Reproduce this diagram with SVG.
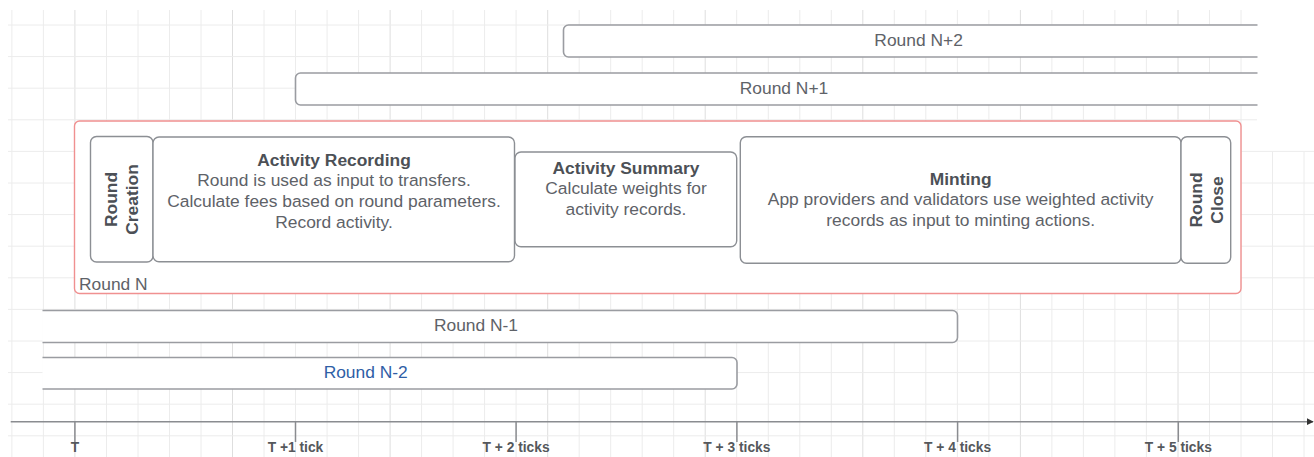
<svg xmlns="http://www.w3.org/2000/svg" width="1314" height="457" viewBox="0 0 1314 457">
  <defs>
    <style>
      .grid { stroke: #ececec; stroke-width: 1; fill: none; }
      .gridmaj { stroke: #dedede; stroke-width: 1; fill: none; }
      .bar { fill: #ffffff; stroke: #9a9ca1; stroke-width: 1.6; }
      .box { fill: #ffffff; stroke: #8c8f94; stroke-width: 1.4; }
      .frame { fill: #ffffff; stroke: #f09090; stroke-width: 1.4; }
      .t { font-family: "Liberation Sans", Arial, Helvetica, sans-serif; font-size: 17.4px; fill: #5e6268; text-anchor: middle; }
      .tb { font-family: "Liberation Sans", Arial, Helvetica, sans-serif; font-size: 17.4px; font-weight: bold; fill: #4c5056; text-anchor: middle; }
      .ax { font-family: "Liberation Sans", Arial, Helvetica, sans-serif; font-size: 13.8px; font-weight: bold; fill: #55585c; text-anchor: middle; }
      .axis { stroke: #8a8c90; stroke-width: 1.5; fill: none; }
    </style>
    <clipPath id="clipR"><rect x="0" y="0" width="1257.5" height="457"/></clipPath>
    <clipPath id="clipL"><rect x="42.5" y="0" width="1300" height="457"/></clipPath>
    <marker id="arrow" viewBox="0 0 10 10" refX="9" refY="5" markerWidth="7" markerHeight="7" markerUnits="userSpaceOnUse" orient="auto">
      <path d="M0,0 L10,5 L0,10 Z" fill="#333"/>
    </marker>
  </defs>

  <rect x="0" y="0" width="1314" height="457" fill="#ffffff"/>

  <g id="grid">
    <path class="grid" d="M11.9,10V457 M43.4,10V457 M106.5,10V457 M138,10V457 M169.5,10V457 M201,10V457 M264,10V457 M295.5,10V457 M327.1,10V457 M358.6,10V457 M421.6,10V457 M453.1,10V457 M484.6,10V457 M516.1,10V457 M579.2,10V457 M610.7,10V457 M642.2,10V457 M673.7,10V457 M736.7,10V457 M768.3,10V457 M799.8,10V457 M831.3,10V457 M894.3,10V457 M925.8,10V457 M957.4,10V457 M988.9,10V457 M1051.9,10V457 M1083.4,10V457 M1114.9,10V457 M1146.4,10V457 M1209.5,10V457 M1241,10V457 M1272.5,151.4V457 M1304,151.4V457"/>
    <path class="gridmaj" d="M74.9,10V457 M232.5,10V457 M390.1,10V457 M547.7,10V457 M705.2,10V457 M862.8,10V457 M1020.4,10V457 M1178,10V457"/>
    <path class="grid" d="M8,25H1257 M8,56.6H1257 M8,88.2H1257 M8,119.8H1257 M8,151.4H1314 M8,183H1314 M8,214.6H1314 M8,246.2H1314 M8,277.8H1314 M8,309.4H1314 M8,341H1314 M8,372.6H1314 M8,404.2H1314 M8,435.8H1314"/>
  </g>

  <g id="round-n-plus-2" clip-path="url(#clipR)">
    <rect class="bar" x="563.5" y="25" width="730" height="32" rx="5"/>
    <text class="t" x="918.6" y="46.3">Round N+2</text>
  </g>

  <g id="round-n-plus-1" clip-path="url(#clipR)">
    <rect class="bar" x="295.5" y="73" width="1000" height="32" rx="5"/>
    <text class="t" x="784" y="94">Round N+1</text>
  </g>

  <g id="round-n">
    <rect class="frame" x="74.5" y="121" width="1166.5" height="172.5" rx="5"/>
    <text class="t" x="79" y="289.5" style="text-anchor:start">Round N</text>
  </g>

  <g id="round-creation">
    <rect class="box" x="90.5" y="136.5" width="62.5" height="125.5" rx="6"/>
    <g transform="translate(121.5,199.5) rotate(-90)">
      <text class="tb" x="0" y="-4.5">Round</text>
      <text class="tb" x="0" y="16.5">Creation</text>
    </g>
  </g>

  <g id="activity-recording">
    <rect class="box" x="153" y="137" width="361.5" height="124.7" rx="6"/>
    <text class="tb" x="334" y="165.5">Activity Recording</text>
    <text class="t" x="334" y="186.3">Round is used as input to transfers.</text>
    <text class="t" x="334" y="207.1">Calculate fees based on round parameters.</text>
    <text class="t" x="334" y="227.9">Record activity.</text>
  </g>

  <g id="activity-summary">
    <rect class="box" x="515" y="152" width="221.7" height="94.7" rx="6"/>
    <text class="tb" x="626" y="173.5">Activity Summary</text>
    <text class="t" x="626" y="194.4">Calculate weights for</text>
    <text class="t" x="626" y="215.3">activity records.</text>
  </g>

  <g id="minting">
    <rect class="box" x="740.3" y="136.7" width="440.7" height="126.6" rx="6"/>
    <text class="tb" x="960.7" y="184.5">Minting</text>
    <text class="t" x="960.7" y="205.4">App providers and validators use weighted activity</text>
    <text class="t" x="960.7" y="226.3">records as input to minting actions.</text>
  </g>

  <g id="round-close">
    <rect class="box" x="1181" y="136.7" width="49.7" height="126.6" rx="6"/>
    <g transform="translate(1206,200) rotate(-90)">
      <text class="tb" x="0" y="-4.5">Round</text>
      <text class="tb" x="0" y="16.5">Close</text>
    </g>
  </g>

  <g id="round-n-minus-1" clip-path="url(#clipL)">
    <rect class="bar" x="-20" y="310.5" width="977.5" height="32" rx="5"/>
    <text class="t" x="476" y="330.5">Round N-1</text>
  </g>

  <g id="round-n-minus-2" clip-path="url(#clipL)">
    <rect class="bar" x="-20" y="357.5" width="757" height="31.5" rx="5"/>
    <text class="t" x="365.7" y="377.8" style="fill:#2f5ea6">Round N-2</text>
  </g>

  <g id="connectors">
    <line class="axis" x1="10.7" y1="421.7" x2="1313" y2="421.7" marker-end="url(#arrow)"/>
    <path class="axis" d="M74.9,421.7V442 M295.5,421.7V442 M516.1,421.7V442 M736.9,421.7V442 M957.6,421.7V442 M1178.3,421.7V442"/>
  </g>

  <g id="axis-labels">
    <text class="ax" x="74.9" y="451.8">T</text>
    <text class="ax" x="295.5" y="451.8">T +1 tick</text>
    <text class="ax" x="516.1" y="451.8">T + 2 ticks</text>
    <text class="ax" x="736.9" y="451.8">T + 3 ticks</text>
    <text class="ax" x="957.6" y="451.8">T + 4 ticks</text>
    <text class="ax" x="1178.3" y="451.8">T + 5 ticks</text>
  </g>
</svg>
